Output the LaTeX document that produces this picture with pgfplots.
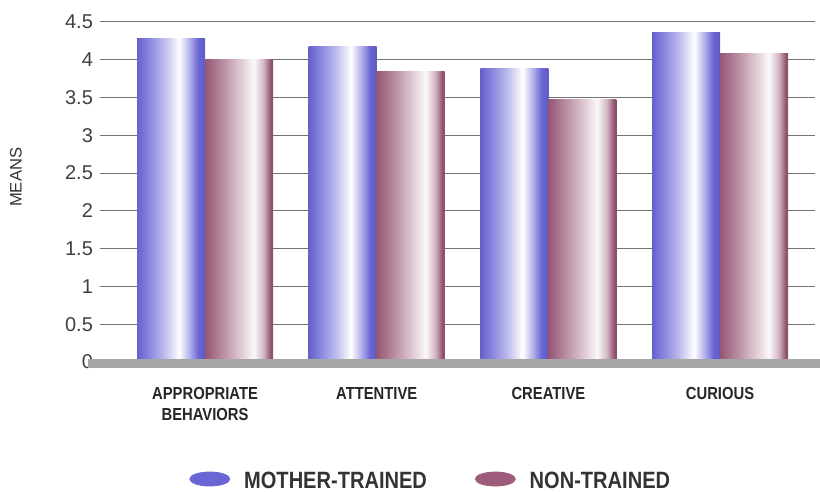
\documentclass[border=0pt]{standalone}
\usepackage{fontspec}
\setmainfont{Liberation Sans}
\newfontfamily\condfont[FakeStretch=0.85]{Liberation Sans}
\usepackage{pgfplots}
\pgfplotsset{compat=1.18}

\definecolor{mblue}{HTML}{6A66D6}
\definecolor{mmauve}{HTML}{9C5C7A}

% cylinder-like shading, bar spans 25bp..75bp
\pgfdeclarehorizontalshading{cylblue}{100bp}{%
  color(0bp)=(mblue); color(25bp)=(mblue!95!black);
  color(34bp)=(mblue!78!white); color(46bp)=(mblue!40!white);
  color(56bp)=(white); color(64bp)=(mblue!55!white);
  color(70bp)=(mblue); color(75bp)=(mblue!90!black); color(100bp)=(mblue)}
\pgfdeclarehorizontalshading{cylmauve}{100bp}{%
  color(0bp)=(mmauve); color(25bp)=(mmauve!95!black);
  color(38bp)=(mmauve!70!white); color(52bp)=(mmauve!30!white);
  color(61bp)=(mmauve!4!white); color(68bp)=(mmauve!45!white);
  color(73bp)=(mmauve!95!black); color(75bp)=(mmauve!85!black); color(100bp)=(mmauve)}

\pgfplotsset{
  mt/.style={draw=none, shade, shading=cylblue, bar shift=-0.198, forget plot},
  nt/.style={draw=none, shade, shading=cylmauve, bar shift=0.198, forget plot},
}

\begin{document}
\begin{tikzpicture}
\begin{axis}[
    scale only axis, width=357.5pt, height=170pt,
    ymin=0, ymax=4.5,
    ytick={0,0.5,1,1.5,2,2.5,3,3.5,4,4.5},
    xmin=-0.612, xmax=3.553,
    ybar=0pt, bar width=0.396,
    xtick={0,1,2,3},
    xticklabels={{APPROPRIATE\\BEHAVIORS},ATTENTIVE,CREATIVE,CURIOUS},
    xticklabel style={font=\condfont\bfseries\fontsize{8.7}{10.5}\selectfont,
        align=center, text=black!85, yshift=-5pt},
    yticklabel style={font=\fontsize{10}{12}\selectfont, text=black!75},
    /pgf/number format/assume math mode=true,
    axis line style={draw=none}, tick style={draw=none},
    ymajorgrids, major grid style={draw=black!55, line width=0.5pt},
    ylabel={MEANS},
    ylabel style={at={(axis description cs:-0.1175,0.543)}, anchor=center,
        font=\fontsize{8.3}{10}\selectfont, text=black!80},
    legend columns=2,
    legend style={at={(axis description cs:0.464,-0.353)}, anchor=center,
        draw=none, fill=none,
        /tikz/every even column/.append style={column sep=22pt},
        font=\condfont\bfseries\fontsize{11.8}{13}\selectfont, text=black!80},
]
% mother-trained
\addplot[mt] coordinates {(0,4.28)};
\addplot[mt] coordinates {(1,4.17)};
\addplot[mt] coordinates {(2,3.89)};
\addplot[mt] coordinates {(3,4.36)};
% non-trained
\addplot[nt] coordinates {(0,4.00)};
\addplot[nt] coordinates {(1,3.84)};
\addplot[nt] coordinates {(2,3.48)};
\addplot[nt] coordinates {(3,4.08)};

\addlegendimage{legend image code/.code={%
    \fill[mblue] (0pt,1.5pt) ellipse (10pt and 3.5pt); \path (15pt,0pt);}}
\addlegendentry{MOTHER-TRAINED}
\addlegendimage{legend image code/.code={%
    \fill[mmauve] (0pt,1.5pt) ellipse (10pt and 3.5pt); \path (15pt,0pt);}}
\addlegendentry{NON-TRAINED}
\end{axis}
\fill[black!35] ([xshift=-6pt,yshift=-3pt]current axis.south west)
    rectangle ([xshift=2.5pt,yshift=1.5pt]current axis.south east);
\pgfresetboundingbox
\useasboundingbox ([xshift=-50pt,yshift=-65pt]current axis.south west)
    rectangle ([xshift=2.5pt,yshift=11pt]current axis.north east);
\end{tikzpicture}
\end{document}
